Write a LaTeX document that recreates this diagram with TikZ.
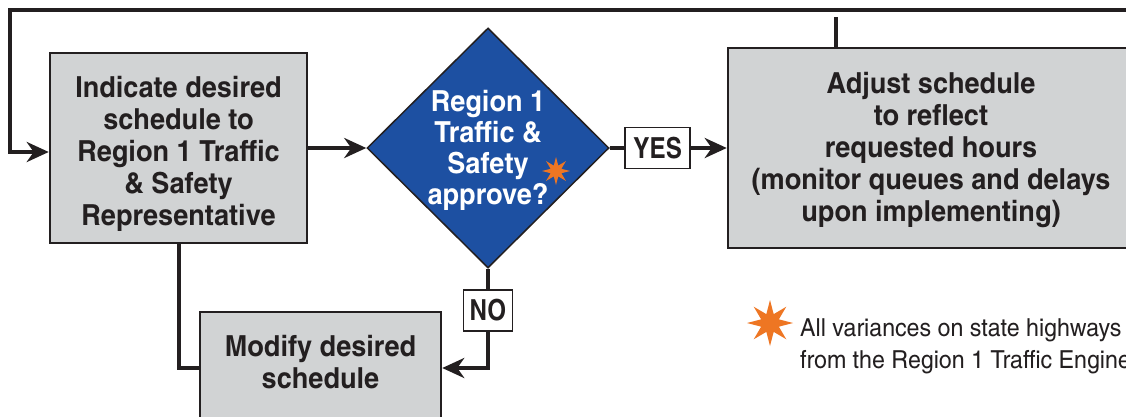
\documentclass[tikz,border=0pt]{standalone}
\usepackage{fontspec}
\setmainfont{texgyreheroscn}[Extension=.otf, UprightFont=*-regular, BoldFont=*-bold, ItalicFont=*-italic, BoldItalicFont=*-bolditalic, FakeStretch=1.14]
\newfontfamily\lblfont{texgyreheroscn}[Extension=.otf, UprightFont=*-bold, FakeStretch=1.02]
\usetikzlibrary{shapes.geometric,arrows.meta}
\definecolor{ink}{HTML}{231F20}
\definecolor{boxgray}{HTML}{D1D3D4}
\definecolor{dblue}{HTML}{1D50A2}
\definecolor{starorange}{HTML}{EE7623}
\begin{document}
\begin{tikzpicture}[x=1pt,y=-1pt,
  procbox/.style={draw=ink, line width=2.5pt, fill=boxgray, inner sep=0pt},
  boxtext/.style={inner sep=0pt, align=center, text=ink, font=\bfseries\fontsize{29}{32}\selectfont},
  flow/.style={draw=ink, line width=4pt, -{Stealth[length=22pt,width=20pt,inset=7pt]}},
  plainline/.style={draw=ink, line width=4pt},
  lbl/.style={draw=ink, line width=1.5pt, fill=white, inner sep=0pt, text=ink, font=\lblfont\fontsize{29}{32}\selectfont},
  decision/.style={draw=ink, line width=1.5pt, fill=dblue, diamond, inner sep=0pt},
  dectext/.style={inner sep=0pt, text=white, align=center, font=\bfseries\fontsize{29}{31}\selectfont},
  orangestar/.style={star, star points=8, star point ratio=2.4, fill=starorange, inner sep=0pt}
]
\clip (0,0) rectangle (1126,416);
\fill[white] (0,0) rectangle (1126,416);

\node[procbox, minimum width=257pt, minimum height=190pt] (box1) at (178.5,148) {};
\node[boxtext] (box1txt) at (178.5,154) {Indicate desired\\schedule to\\Region 1 Traffic\\\& Safety\\Representative};
\node[procbox, minimum width=406pt, minimum height=200pt] (box3) at (931,148) {};
\node[boxtext] (box3txt) at (931,150) {Adjust schedule\\to reflect\\requested hours\\(monitor queues and delays\\upon implementing)};
\node[procbox, minimum width=241pt, minimum height=112pt] (box2) at (320.5,368) {};
\node[boxtext] (box2txt) at (320.5,362) {Modify desired\\schedule};
\node[decision, minimum width=242pt, minimum height=240pt] (dec) at (488,148) {};
\node[dectext] (dectxt) at (488,150) {Region 1\\Traffic \&\\Safety\\approve?};
\node[orangestar, minimum size=28pt] (star1) at (556,171) {};

\coordinate (tr) at (1140,10);
\coordinate (tl) at (10,10);
\coordinate (in1) at (10,152);
\draw[flow] (tr) -- (tl) -- (in1) -- (in1 -| box1.west);
\coordinate (up3) at (836,17);
\draw[plainline] (up3) -- (up3 |- box3.north);

\draw[flow] (box1.east) -- (dec.west);
\draw[flow] (dec.east) -- node[lbl, pos=0.41, minimum width=65pt, minimum height=41pt] (yes) {YES} (box3.west);
\draw[flow] (dec.south) |- node[lbl, pos=0.21, minimum width=49pt, minimum height=41pt] (no) {NO} (box2.east);
\draw[plainline] (box1.south) |- (box2.west);

\node[orangestar, minimum size=46pt] (star2) at (770,323) {};
\node[anchor=west, inner sep=0pt, align=left, text=ink, font=\fontsize{24.8}{32}\selectfont] (legend) at (800,346) {All variances on state highways\\from the Region 1 Traffic Engine};
\end{tikzpicture}
\end{document}
